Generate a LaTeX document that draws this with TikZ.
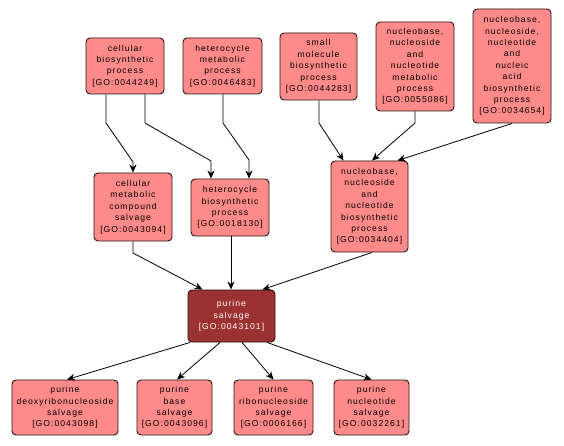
\documentclass[tikz,border=0pt]{standalone}
\usepackage{fontspec}
\newfontfamily\gofont[LetterSpace=12]{Liberation Sans}
\usetikzlibrary{arrows.meta}
\definecolor{gofill}{RGB}{255,138,138}
\definecolor{gomain}{RGB}{155,49,49}
\definecolor{goline}{RGB}{40,20,20}
\tikzset{
  gobox/.style={draw=goline, line width=0.9pt, fill=gofill, rounded corners=4pt,
    align=center, inner sep=0pt, text=black,
    font=\gofont\fontsize{8.6}{11.4}\selectfont},
  gomainbox/.style={gobox, fill=gomain, text=white},
  dims/.style 2 args={minimum width=#1, minimum height=#2},
  golink/.style={draw=black, line width=0.8pt,
    -{Stealth[length=8pt,width=7pt,inset=2.5pt]}}
}
\begin{document}
\begin{tikzpicture}[x=1pt,y=-1pt]
\useasboundingbox[fill=white] (0,0) rectangle (564,446);
% top row
\node[gobox, dims={78pt}{56pt}] (cbp) at (125,66) {cellular\\biosynthetic\\process\\{[GO:0044249]}};
\node[gobox, dims={79pt}{56pt}] (hmp) at (222.5,66) {heterocycle\\metabolic\\process\\{[GO:0046483]}};
\node[gobox, dims={77pt}{67pt}] (smbp) at (318.5,66.5) {small\\molecule\\biosynthetic\\process\\{[GO:0044283]}};
\node[gobox, dims={78pt}{89pt}] (nnm) at (415,66.5) {nucleobase,\\nucleoside\\and\\nucleotide\\metabolic\\process\\{[GO:0055086]}};
\node[gobox, dims={78pt}{114pt}] (nnnab) at (512,66) {nucleobase,\\nucleoside,\\nucleotide\\and\\nucleic\\acid\\biosynthetic\\process\\{[GO:0034654]}};
% middle row
\node[gobox, dims={78pt}{68pt}] (cmcs) at (133,207) {cellular\\metabolic\\compound\\salvage\\{[GO:0043094]}};
\node[gobox, dims={78pt}{57pt}] (hbp) at (230,207.5) {heterocycle\\biosynthetic\\process\\{[GO:0018130]}};
\node[gobox, dims={77pt}{91pt}] (nnb) at (369.5,206.5) {nucleobase,\\nucleoside\\and\\nucleotide\\biosynthetic\\process\\{[GO:0034404]}};
% main
\node[gomainbox, dims={87pt}{52pt}] (ps) at (231.5,316) {purine\\salvage\\{[GO:0043101]}};
% bottom row
\node[gobox, dims={106pt}{55pt}] (pds) at (65,407.5) {purine\\deoxyribonucleoside\\salvage\\{[GO:0043098]}};
\node[gobox, dims={75pt}{55pt}] (pbs) at (174.5,407.5) {purine\\base\\salvage\\{[GO:0043096]}};
\node[gobox, dims={79pt}{55pt}] (prs) at (273.5,407.5) {purine\\ribonucleoside\\salvage\\{[GO:0006166]}};
\node[gobox, dims={75pt}{55pt}] (pns) at (371.5,407.5) {purine\\nucleotide\\salvage\\{[GO:0032261]}};
% bend points
\coordinate (b1a) at (106,123);
\coordinate (b1b) at (133,162);
\coordinate (b2a) at (145,123);
\coordinate (b2b) at (211,161);
\coordinate (b3a) at (223,123);
\coordinate (b3b) at (249,160);
\coordinate (b4a) at (319,123);
\coordinate (b5a) at (415,123);
\coordinate (b7a) at (133,253);
% connectors
\draw[golink] ([xshift=-19pt]cbp.south) -- (b1a) -- (b1b) -- (cmcs.north);
\draw[golink] ([xshift=20pt]cbp.south) -- (b2a) -- (b2b) -- ([xshift=-19pt]hbp.north);
\draw[golink] ([xshift=0.5pt]hmp.south) -- (b3a) -- (b3b) -- ([xshift=19pt]hbp.north);
\draw[golink] ([xshift=0.5pt]smbp.south) -- (b4a) -- ([xshift=-26pt]nnb.north);
\draw[golink] (nnm.south) -- (b5a) -- ([xshift=2.5pt]nnb.north);
\draw[golink] (nnnab.south) -- ([xshift=28pt]nnb.north);
\draw[golink] (cmcs.south) -- (b7a) -- ([xshift=-29pt]ps.north);
\draw[golink] ([xshift=1pt]hbp.south) -- ([xshift=-0.5pt]ps.north);
\draw[golink] ([xshift=2.5pt]nnb.south) -- ([xshift=31pt]ps.north);
\draw[golink] ([xshift=-41.5pt]ps.south) -- ([xshift=2pt]pds.north);
\draw[golink] ([xshift=-11.5pt]ps.south) -- ([xshift=2.5pt]pbs.north);
\draw[golink] ([xshift=10.5pt]ps.south) -- (prs.north);
\draw[golink] ([xshift=35.5pt]ps.south) -- (pns.north);
\end{tikzpicture}
\end{document}
